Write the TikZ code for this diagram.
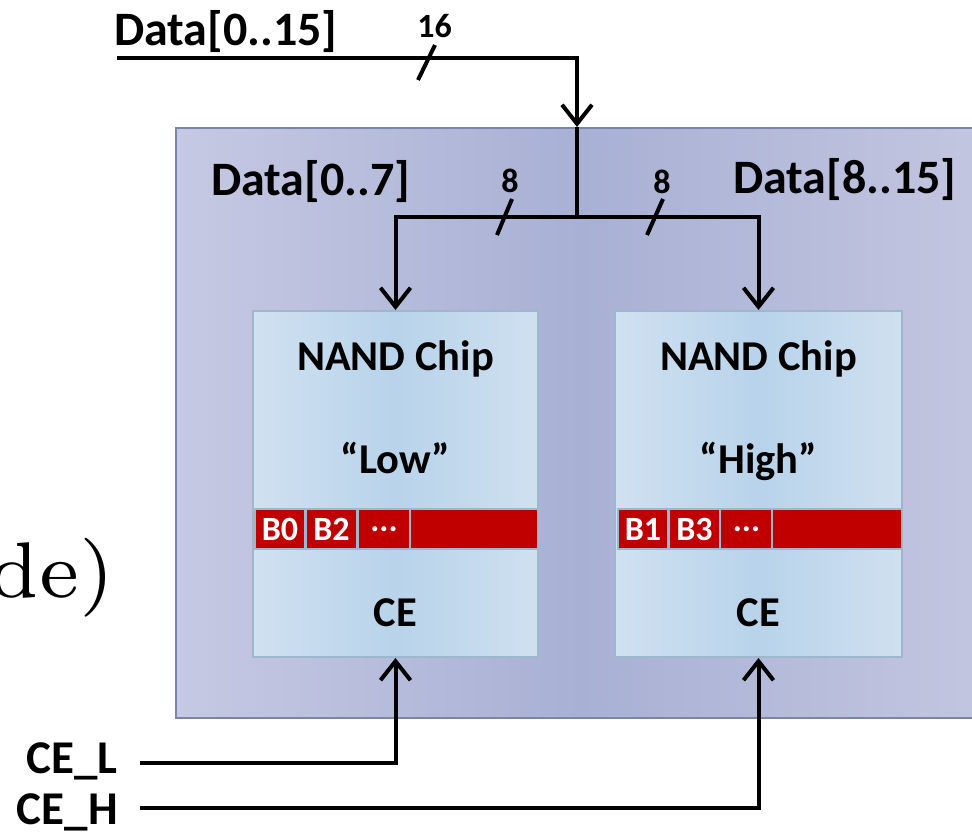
\documentclass[tikz,border=0pt]{standalone}
\usepackage{fontspec}
\newfontfamily\calib{Carlito}
\newfontfamily\lmheavy{lmroman7-regular.otf}
\usetikzlibrary{arrows.meta}
\definecolor{boardL}{HTML}{C6C9E3}
\definecolor{boardM}{HTML}{A8B0D4}
\definecolor{boardR}{HTML}{C3C6E0}
\definecolor{boardB}{HTML}{7B84AD}
\definecolor{chipL}{HTML}{D0E1F1}
\definecolor{chipM}{HTML}{B8D3EA}
\definecolor{chipR}{HTML}{CFE0F0}
\definecolor{chipB}{HTML}{9DB7CC}
\definecolor{bandred}{HTML}{C00000}
\begin{document}
\begin{tikzpicture}[x=1pt,y=-1pt,
  >={Straight Barb[length=19pt,width=30pt]},
  wire/.style={line width=4pt},
  board/.style={draw=boardB, line width=2pt, left color=boardL, right color=boardR, middle color=boardM, inner sep=0},
  chip/.style={draw=chipB, line width=2pt, left color=chipL, right color=chipR, middle color=chipM, inner sep=0, minimum height=346pt},
  cell/.style={draw=chipB, line width=1.5pt, fill=bandred, text=white, inner sep=0, minimum height=40pt, font=\calib\bfseries\fontsize{34}{38}\selectfont},
  bigtxt/.style={inner sep=0, font=\calib\bfseries\fontsize{48}{52}\selectfont},
  chiptxt/.style={inner sep=0, font=\calib\bfseries\fontsize{42.5}{46}\selectfont},
  numtxt/.style={inner sep=0, font=\calib\bfseries\fontsize{34}{38}\selectfont},
  sigtxt/.style={inner sep=0, font=\calib\bfseries\fontsize{47}{51}\selectfont}]
\useasboundingbox (0,0) rectangle (972,833);
% slide text fragment
\node[inner sep=0, anchor=base east, font=\lmheavy\fontsize{79}{90}\selectfont] (frag) at (115,597) {de)};
% board
\node[board, minimum width=809pt, minimum height=590pt] (board) at (580.5,423) {};
% chips
\node[chip, minimum width=285pt] (L) at (395.5,484) {};
\node[chip, minimum width=287pt] (R) at (758.5,484) {};
\node[chiptxt, anchor=base] (Lname) at (395.5,370) {NAND Chip};
\node[chiptxt, anchor=base] (Lsub) at (395.5,473) {“Low”};
\node[chiptxt, anchor=base] (Lce) at (395.5,626) {CE};
\node[chiptxt, anchor=base] (Rname) at (758.5,370) {NAND Chip};
\node[chiptxt, anchor=base] (Rsub) at (758.5,473) {“High”};
\node[chiptxt, anchor=base] (Rce) at (758.5,626) {CE};
% bands
\node[cell, minimum width=50pt] (b0) at (280,529) {B0};
\node[cell, minimum width=51pt] (b2) at (331.5,529) {B2};
\node[cell, minimum width=52pt] (bl) at (384,529) {...};
\node[cell, minimum width=128pt] (bl2) at (474,529) {};
\node[cell, minimum width=50pt] (b1) at (643,529) {B1};
\node[cell, minimum width=51pt] (b3) at (694.5,529) {B3};
\node[cell, minimum width=52pt] (br) at (746.5,529) {...};
\node[cell, minimum width=130pt] (br2) at (837,529) {};
% labels
\node[bigtxt, anchor=base west] (din) at (114,45) {Data[0..15]};
\node[bigtxt, anchor=base west] (dlo) at (211,195) {Data[0..7]};
\node[bigtxt, anchor=base west] (dhi) at (733,193) {Data[8..15]};
\node[numtxt, anchor=base] (n16) at (434.5,37) {16};
\node[numtxt, anchor=base] (n8l) at (510,192) {8};
\node[numtxt, anchor=base] (n8r) at (662,193) {8};
\node[sigtxt, anchor=base east] (cel) at (118,773) {CE\_L};
\node[sigtxt, anchor=base east] (ceh) at (118,824) {CE\_H};
% wires
\coordinate (din0) at (117,58);
\coordinate (j) at (577,217);
\coordinate (cel0) at (140,763);
\coordinate (ceh0) at (140,808);
\draw[wire,->] (din0) -| (j |- board.north);
\draw[wire] (j |- board.north) -- (j);
\draw[wire,->] (j) -| (L.north);
\draw[wire,->] (j) -| (R.north);
\draw[wire,->] (cel0) -| (L.south);
\draw[wire,->] (ceh0) -| (R.south);
% bus width slashes
\draw[line width=4pt] (418,80) -- (435,45);
\draw[line width=4pt] (497,235) -- (512,199);
\draw[line width=4pt] (647,235) -- (663,199);
\end{tikzpicture}
\end{document}
